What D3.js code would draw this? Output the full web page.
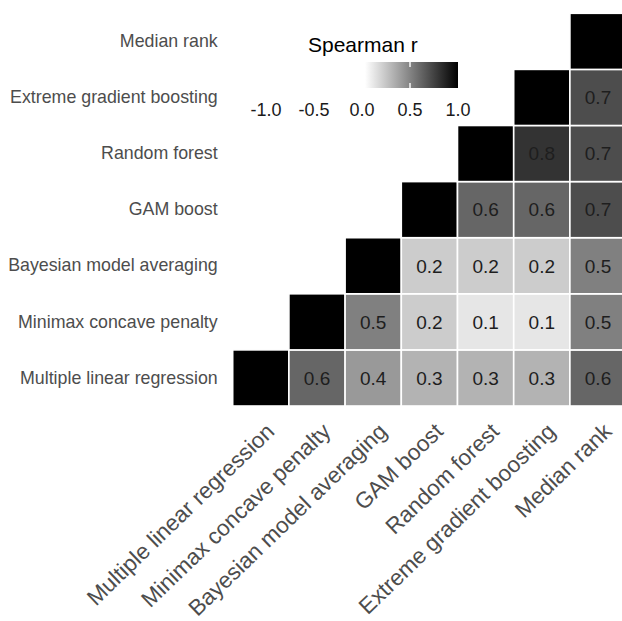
<!DOCTYPE html>
<html>
<head>
<meta charset="utf-8">
<script src="https://cdn.jsdelivr.net/npm/d3@7"></script>
<style>
  html, body { margin: 0; padding: 0; background: #fff; }
  svg { display: block; font-family: "Liberation Sans", Arial, sans-serif; }
</style>
</head>
<body>
<svg id="chart" width="622" height="621"></svg>
<script>
// Methods compared (x order, left to right; y order, bottom to top)
const methods = [
  "Multiple linear regression",
  "Minimax concave penalty",
  "Bayesian model averaging",
  "GAM boost",
  "Random forest",
  "Extreme gradient boosting",
  "Median rank"
];

// Upper-triangle Spearman correlations: each row lists values from its own
// diagonal cell rightwards to "Median rank".
const rowMLR    = [1, 0.6, 0.4, 0.3, 0.3, 0.3, 0.6];
const rowMCP    = [1, 0.5, 0.2, 0.1, 0.1, 0.5];
const rowBMA    = [1, 0.2, 0.2, 0.2, 0.5];
const rowGAM    = [1, 0.6, 0.6, 0.7];
const rowRF     = [1, 0.8, 0.7];
const rowXGB    = [1, 0.7];
const rowMedian = [1];

const legendBreaks = [-1.0, -0.5, 0.0, 0.5, 1.0];
const legendTitle = "Spearman r";

const rows = [rowMLR, rowMCP, rowBMA, rowGAM, rowRF, rowXGB, rowMedian];
const cells = [];
rows.forEach((vals, i) => {
  vals.forEach((v, k) => {
    const j = i + k;
    cells.push({ row: methods[i], col: methods[j], value: v, diag: i === j });
  });
});

const svg = d3.select("#chart");

const x = d3.scaleBand().domain(methods).range([232.7, 626.1]).padding(0);
const y = d3.scaleBand().domain(methods.slice().reverse()).range([13.3, 406]).padding(0);
const fill = d3.scaleLinear().domain([0, 1]).range(["#ffffff", "#000000"]);
const fmt = v => d3.format(".1f")(v).replace("\u2212", "-");

// Tiles
svg.append("g")
  .selectAll("rect")
  .data(cells)
  .join("rect")
  .attr("x", d => x(d.col))
  .attr("y", d => y(d.row))
  .attr("width", x.bandwidth())
  .attr("height", y.bandwidth())
  .attr("fill", d => fill(d.value))
  .attr("stroke", "#ffffff")
  .attr("stroke-width", 1.6);

// Value labels (off-diagonal only)
svg.append("g")
  .selectAll("text")
  .data(cells.filter(d => !d.diag))
  .join("text")
  .attr("x", d => x(d.col) + x.bandwidth() / 2)
  .attr("y", d => y(d.row) + y.bandwidth() / 2)
  .attr("dy", "0.36em")
  .attr("text-anchor", "middle")
  .attr("font-size", 19)
  .attr("fill", "#1e1e1e")
  .text(d => fmt(d.value));

// Y axis labels
const yAxis = d3.axisLeft(y).tickSize(0).tickPadding(15);
const yg = svg.append("g").attr("transform", `translate(${232.7},0)`).call(yAxis);
yg.select(".domain").remove();
yg.selectAll("text")
  .attr("font-size", 17.8)
  .attr("font-family", '"Liberation Sans", Arial, sans-serif')
  .attr("fill", "#4d4d4d");

// X axis labels, rotated
const xAxis = d3.axisBottom(x).tickSize(0).tickPadding(0);
const xg = svg.append("g").attr("transform", `translate(0,${406})`).call(xAxis);
xg.select(".domain").remove();
xg.selectAll("text")
  .attr("font-size", 22.5)
  .attr("font-family", '"Liberation Sans", Arial, sans-serif')
  .attr("fill", "#4d4d4d")
  .attr("text-anchor", "end")
  .attr("y", 0)
  .attr("dy", 0)
  .attr("transform", "translate(15,27) rotate(-44)");

// Colour bar legend
const lx = d3.scaleLinear().domain([-1, 1]).range([266, 458]);
const defs = svg.append("defs");
const grad = defs.append("linearGradient").attr("id", "spearmanGrad")
  .attr("x1", "0%").attr("x2", "100%").attr("y1", "0%").attr("y2", "0%");
grad.append("stop").attr("offset", "0%").attr("stop-color", fill(0));
grad.append("stop").attr("offset", "100%").attr("stop-color", fill(1));

const barTop = 62, barH = 26;
const legend = svg.append("g");
legend.append("rect")
  .attr("x", lx(0) + 3)
  .attr("y", barTop)
  .attr("width", lx(1) - lx(0) - 3)
  .attr("height", barH)
  .attr("fill", "url(#spearmanGrad)");

const innerBreaks = legendBreaks.filter(b => b > 0 && b < 1);
legend.selectAll("line.tickTop")
  .data(innerBreaks)
  .join("line")
  .attr("class", "tickTop")
  .attr("x1", b => lx(b)).attr("x2", b => lx(b))
  .attr("y1", barTop).attr("y2", barTop + 5)
  .attr("stroke", "#ffffff").attr("stroke-width", 1.4);
legend.selectAll("line.tickBottom")
  .data(innerBreaks)
  .join("line")
  .attr("class", "tickBottom")
  .attr("x1", b => lx(b)).attr("x2", b => lx(b))
  .attr("y1", barTop + barH - 5).attr("y2", barTop + barH)
  .attr("stroke", "#ffffff").attr("stroke-width", 1.4);

legend.selectAll("text.brk")
  .data(legendBreaks)
  .join("text")
  .attr("class", "brk")
  .attr("x", b => lx(b))
  .attr("y", 115.5)
  .attr("text-anchor", "middle")
  .attr("font-size", 18)
  .attr("fill", "#1a1a1a")
  .text(b => fmt(b));

legend.append("text")
  .attr("x", 308)
  .attr("y", 51.5)
  .attr("font-size", 21)
  .attr("fill", "#000")
  .text(legendTitle);
</script>
</body>
</html>
